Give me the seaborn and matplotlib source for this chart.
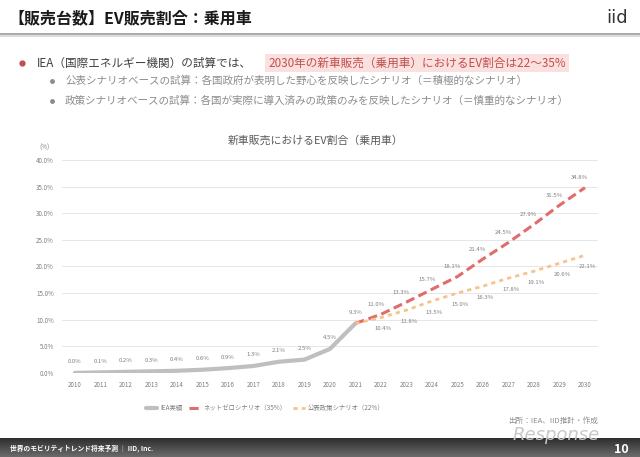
import numpy as np
import pandas as pd
import seaborn as sns
import matplotlib.pyplot as plt
from matplotlib.lines import Line2D
from matplotlib.colors import LinearSegmentedColormap

# ---- data ----
years_hist = [2010, 2011, 2012, 2013, 2014, 2015, 2016, 2017, 2018, 2019, 2020, 2021]
share_hist = [0.0, 0.1, 0.2, 0.3, 0.4, 0.6, 0.9, 1.3, 2.1, 2.5, 4.5, 9.3]

years_fc = [2021, 2022, 2023, 2024, 2025, 2026, 2027, 2028, 2029, 2030]
share_high = [9.3, 11.0, 13.3, 15.7, 18.1, 21.4, 24.5, 27.9, 31.5, 34.8]
share_low = [9.3, 10.4, 11.8, 13.5, 15.0, 16.3, 17.8, 19.1, 20.6, 22.1]

series_names = ['IEA実績', 'ネットゼロシナリオ（35%）', '公表政策シナリオ（22%）']
series_colors = ['#bfbfbf', '#e06c6c', '#f7c38a']
yticks = [0, 5, 10, 15, 20, 25, 30, 35, 40]

df = pd.concat([
    pd.DataFrame({'year': years_hist, 'share': share_hist, 'series': series_names[0]}),
    pd.DataFrame({'year': years_fc, 'share': share_high, 'series': series_names[1]}),
    pd.DataFrame({'year': years_fc, 'share': share_low, 'series': series_names[2]}),
])

sns.set_theme(style='white')
plt.rcParams['font.family'] = ['Noto Sans CJK JP', 'DejaVu Sans']

fig = plt.figure(figsize=(6.4, 4.57), dpi=100)
ax = fig.add_axes([0.097, 0.184, 0.837, 0.466])

dash_map = {series_names[0]: '', series_names[1]: (3, 1.5), series_names[2]: (1.5, 1.5)}
sns.lineplot(data=df, x='year', y='share', hue='series', style='series',
             palette=dict(zip(series_names, series_colors)), dashes=dash_map,
             ax=ax, legend=False, sort=False)
lws = [3.0, 2.2, 2.0]
for line, lw in zip(ax.get_lines(), lws):
    line.set_linewidth(lw)

# data labels
lab_kw = dict(fontsize=4.3, color='#7f7f7f', ha='center')
for x, v in zip(years_hist, share_hist):
    ax.text(x, v + 1.6, f'{v:.1f}%', va='bottom', **lab_kw)
for x, v in zip(years_fc[1:], share_high[1:]):
    ax.text(x - 0.2, v + 1.4, f'{v:.1f}%', va='bottom', **lab_kw)
for x, v in zip(years_fc[1:], share_low[1:]):
    ax.text(x + 0.1, v - 1.6, f'{v:.1f}%', va='top', **lab_kw)

ax.set_xlim(2009.5, 2030.5)
ax.set_ylim(0, 40)
xt = years_hist[:-1] + years_fc
ax.set_xticks(xt)
ax.set_xticklabels([str(y) for y in xt], fontsize=4.5, color='#7f7f7f')
ax.set_yticks(yticks)
ax.set_yticklabels([f'{t:.1f}%' for t in yticks], fontsize=4.5, color='#7f7f7f')
ax.tick_params(length=0, pad=6)
ax.grid(axis='y', color='#e6e6e6', lw=0.7)
ax.set_axisbelow(True)
for s in ax.spines.values():
    s.set_visible(False)
ax.set_xlabel('')
ax.set_ylabel('')
fig.text(50 / 640, 1 - 148 / 457, '(%)', fontsize=4.5, color='#7f7f7f', ha='right', va='center')
fig.text(316 / 640, 1 - 141 / 457, '新車販売におけるEV割合（乗用車）', fontsize=7.8,
         color='#595959', ha='center', va='center')

# legend
handles = [Line2D([], [], color=series_colors[0], lw=lws[0]),
           Line2D([], [], color=series_colors[1], lw=lws[1], ls=(0, (3, 1.5))),
           Line2D([], [], color=series_colors[2], lw=lws[2], ls=(0, (1.5, 1.5)))]
fig.legend(handles, series_names, loc='center', bbox_to_anchor=(265 / 640, 1 - 408 / 457),
           ncol=3, frameon=False, fontsize=4.6, handlelength=1.8, columnspacing=1.0,
           handletextpad=0.5, labelcolor='#7f7f7f')

# header
fig.text(8 / 640, 1 - 18 / 457, '【販売台数】EV販売割合：乗用車', fontsize=11.5,
         fontweight='bold', color='#1a1a1a', ha='left', va='center')
fig.text(628 / 640, 1 - 18 / 457, 'iid', fontsize=13, color='#333333', ha='right', va='center',
         family=['DejaVu Sans'])
fig.add_artist(Line2D([0, 1], [1 - 34 / 457] * 2, color='#9a9a9a', lw=1.2, transform=fig.transFigure))
fig.add_artist(Line2D([0, 1], [1 - 36 / 457] * 2, color='#dddddd', lw=1.5, transform=fig.transFigure))

# bullets
fig.add_artist(Line2D([22 / 640], [1 - 63 / 457], marker='o', ms=3.5, color='#c0504d',
                      transform=fig.transFigure))
fig.text(37 / 640, 1 - 63 / 457, 'IEA（国際エネルギー機関）の試算では、', fontsize=8.4,
         color='#404040', ha='left', va='center')
fig.text(268 / 640, 1 - 63 / 457, '2030年の新車販売（乗用車）におけるEV割合は22〜35%',
         fontsize=8.4, color='#c0504d', ha='left', va='center',
         bbox=dict(boxstyle='square,pad=0.25', fc='#fbe0e0', ec='none'))
sub = ['公表シナリオベースの試算：各国政府が表明した野心を反映したシナリオ（＝積極的なシナリオ）',
       '政策シナリオベースの試算：各国が実際に導入済みの政策のみを反映したシナリオ（＝慎重的なシナリオ）']
for i, t in enumerate(sub):
    y = 1 - (81 + 20 * i) / 457
    fig.add_artist(Line2D([52 / 640], [y], marker='o', ms=2.5, color='#8c8c8c',
                          transform=fig.transFigure))
    fig.text(65 / 640, y, t, fontsize=7.6, color='#8c8c8c', ha='left', va='center')

# source + watermark
fig.text(598 / 640, 1 - 421 / 457, '出所：IEA、IID推計・作成', fontsize=5.5, color='#8c8c8c',
         ha='right', va='center')
fig.text(556 / 640, 1 - 435 / 457, 'Response', fontsize=13, color='#c8c8c8', ha='center',
         va='center', style='italic', family=['DejaVu Sans'], zorder=5)

# footer bar
fax = fig.add_axes([0, 0, 1, 19 / 457])
grad = np.linspace(0, 1, 50).reshape(-1, 1)
fax.imshow(grad, aspect='auto', extent=[0, 1, 0, 1],
           cmap=LinearSegmentedColormap.from_list('f', ['#2e2e2e', '#6b6b6b']))
fax.set_axis_off()
fax.text(0.015, 0.45, '世界のモビリティトレンド将来予測 ｜ IID, Inc.', fontsize=4.9,
         fontweight='bold', color='white', ha='left', va='center', transform=fax.transAxes)
fax.text(0.982, 0.42, '10', fontsize=9, fontweight='bold', color='white', ha='right', va='center',
         transform=fax.transAxes, zorder=6)

fig.savefig('out.png', dpi=100)
